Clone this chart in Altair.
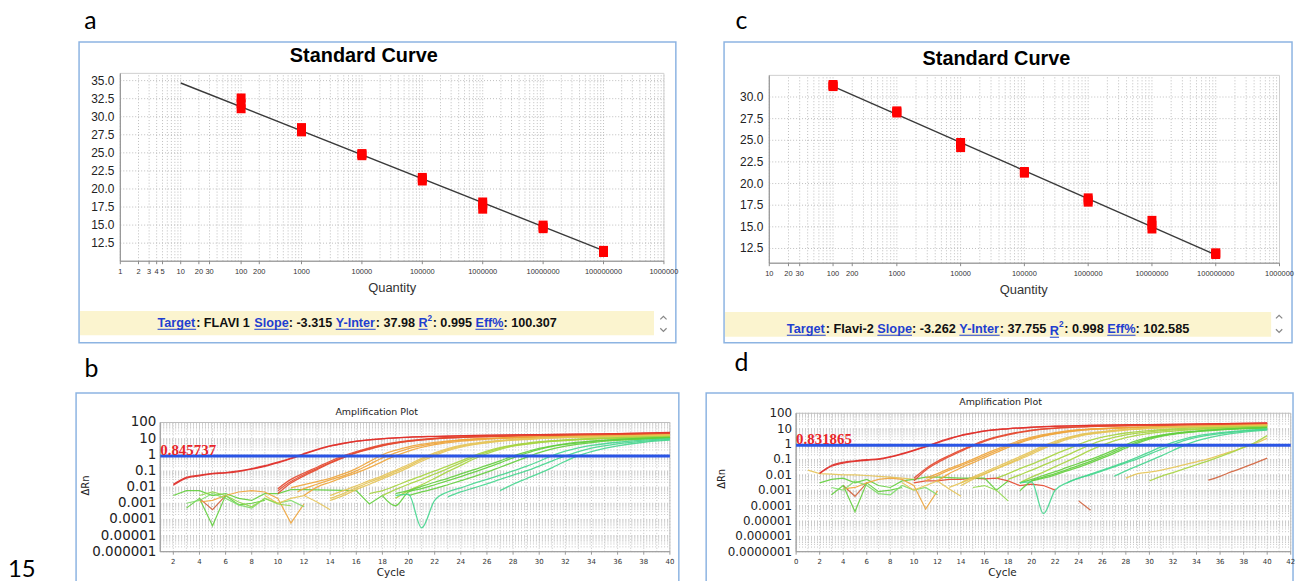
import math
import altair as alt
import pandas as pd

W, H = 1296, 573


def P(v):
    return v - 8


# ---------------- standard curve data ----------------
quantities = [1e2, 1e3, 1e4, 1e5, 1e6, 1e7, 1e8]
ct_flavi1 = [[32.6, 31.8, 31.1], [28.5, 28.2, 27.9], [24.9, 24.8, 24.6], [21.6, 21.4, 21.1],
             [18.2, 17.8, 17.2], [15.0, 14.7, 14.5], [11.5, 11.4, 11.2]]
ct_flavi2 = [[31.45, 31.3, 31.2], [28.4, 28.3, 28.15], [24.75, 24.5, 24.15], [21.4, 21.3, 21.2],
             [18.35, 18.1, 17.85], [15.75, 15.2, 14.75], [12.0, 11.9, 11.8]]
fit1_q = [10, 1e8]
fit1_ct = [34.67, 11.46]
fit2_q = [100, 1e8]
fit2_ct = [31.23, 11.75]

a_xticks = [1, 2, 3, 4, 5, 10, 20, 30, 100, 200, 1e3, 1e4, 1e5, 1e6, 1e7, 1e8, 1e9]
a_xlabels = ['1', '2', '3', '4', '5', '10', '20', '30', '100', '200', '1000', '10000', '100000',
             '1000000', '10000000', '100000000', '1000000']
c_xticks = [10, 20, 30, 100, 200, 1e3, 1e4, 1e5, 1e6, 1e7, 1e8, 1e9]
c_xlabels = ['10', '20', '30', '100', '200', '1000', '10000', '100000', '1000000', '10000000',
             '100000000', '1000000']
a_yticks = [12.5, 15, 17.5, 20, 22.5, 25, 27.5, 30, 32.5, 35]
a_ylabels = ['12.5', '15.0', '17.5', '20.0', '22.5', '25.0', '27.5', '30.0', '32.5', '35.0']
c_yticks = [12.5, 15, 17.5, 20, 22.5, 25, 27.5, 30]
c_ylabels = ['12.5', '15.0', '17.5', '20.0', '22.5', '25.0', '27.5', '30.0']

info_a = [('Target', 'link'), (': FLAVI 1 ', 'bold'), ('Slope', 'link'), (': -3.315 ', 'bold'),
          ('Y-Inter', 'link'), (': 37.98 ', 'bold'), ('R', 'link'), ('2', 'sup'), (': 0.995 ', 'bold'),
          ('Eff%', 'link'), (': 100.307', 'bold')]
info_c = [('Target', 'link'), (': Flavi-2 ', 'bold'), ('Slope', 'link'), (': -3.262 ', 'bold'),
          ('Y-Inter', 'link'), (': 37.755 ', 'bold'), ('R', 'link'), ('2', 'sup'), (': 0.998 ', 'bold'),
          ('Eff%', 'link'), (': 102.585', 'bold')]

# ---------------- amplification data ----------------
b_xticks = list(range(2, 41, 2))
d_xticks = list(range(0, 43, 2))
b_yticks = [1e-6, 1e-5, 1e-4, 1e-3, 1e-2, 1e-1, 1, 10, 100]
b_ylabels = ['0.000001', '0.00001', '0.0001', '0.001', '0.01', '0.1', '1', '10', '100']
d_yticks = [1e-7] + b_yticks
d_ylabels = ['0.0000001'] + b_ylabels
thr_b = 0.845737
thr_d = 0.831865

RED = '#E0302A'
RED2 = '#E4472E'
ORA = '#EEA43A'
YEL = '#E6C457'
YG = '#A6D43F'
GRN = '#62CE3C'
TEAL = '#45D68E'
BRN = '#D0603A'

b_curves = {
    'r1a': (RED, [(2, .015), (3, .04), (4, .055), (5, .07), (6, .08), (7, .1), (8, .14), (9, .21), (10, .35), (11, .62), (12, 1.2), (13, 2.2), (14, 3.6), (15, 5.2), (16, 7), (18, 10), (20, 12.5), (22, 14), (25, 16), (30, 18), (35, 20), (40, 24)]),
    'r1b': (RED, [(2, .013), (3, .036), (4, .05), (5, .065), (6, .075), (7, .092), (8, .13), (9, .19), (10, .32), (11, .57), (12, 1.1), (13, 2.0), (14, 3.4), (15, 5), (16, 6.8), (18, 9.8), (20, 12), (22, 13.5), (25, 15.5), (30, 17.5), (35, 19.5), (40, 23)]),
    'r2a': (RED2, [(10, .008), (11, .03), (12, .075), (13, .17), (14, .4), (15, .85), (16, 1.6), (17, 2.7), (18, 4.2), (20, 7.5), (22, 10.5), (25, 13.5), (30, 16), (35, 18), (40, 21)]),
    'r2b': (RED2, [(10, .006), (11, .022), (12, .06), (13, .14), (14, .33), (15, .72), (16, 1.4), (17, 2.4), (18, 3.8), (20, 7), (22, 10), (25, 13), (30, 15.5), (35, 17.5), (40, 20)]),
    'r2c': (RED2, [(10, .004), (11, .018), (12, .05), (13, .12), (14, .3), (15, .65), (16, 1.3), (17, 2.2), (18, 3.6), (20, 6.8), (22, 9.8), (25, 12.8), (30, 15.5), (35, 17.5), (40, 20)]),
    'o1': (ORA, [(11, .009), (12, .014), (13, .022), (14, .035), (15, .065), (16, .14), (17, .38), (18, 1.0), (19, 1.9), (20, 3.1), (22, 5.8), (24, 8.5), (26, 10.5), (30, 13), (35, 15), (40, 18)]),
    'o2': (ORA, [(11.5, .005), (12, .008), (13, .015), (14, .028), (15, .05), (16, .1), (17, .25), (18, .65), (19, 1.3), (20, 2.4), (22, 5), (24, 8), (26, 10), (30, 12.5), (35, 14.5), (40, 17)]),
    'o3': (ORA, [(12, .003), (13, .01), (14, .02), (15, .04), (16, .075), (17, .16), (18, .38), (19, .85), (20, 1.7), (22, 4.2), (24, 7), (26, 9.3), (30, 12), (35, 14), (40, 16)]),
    'y1': (YEL, [(14, .003), (15, .006), (16, .012), (17, .025), (18, .05), (19, .11), (20, .25), (21, .6), (22, 1.3), (23, 2.4), (24, 3.8), (26, 6.5), (28, 9), (30, 11), (35, 14), (40, 17)]),
    'y2': (YEL, [(14, .002), (15, .004), (16, .009), (17, .02), (18, .04), (19, .09), (20, .2), (21, .5), (22, 1.1), (23, 2.1), (24, 3.4), (26, 6), (28, 8.5), (30, 10.5), (35, 13.5), (40, 16)]),
    'y3': (YEL, [(14, .0015), (15, .003), (16, .007), (17, .015), (18, .032), (19, .07), (20, .16), (21, .4), (22, .9), (23, 1.8), (24, 3), (26, 5.5), (28, 8), (30, 10), (35, 13), (40, 15.5)]),
    'g1': (YG, [(17, .004), (18, .006), (19, .012), (20, .025), (21, .05), (22, .1), (23, .2), (24, .42), (25, .9), (26, 1.7), (27, 2.8), (28, 4), (30, 6.5), (32, 8.5), (35, 11), (40, 14)]),
    'g2': (YG, [(18, .003), (19, .007), (20, .015), (21, .03), (22, .065), (23, .14), (24, .32), (25, .72), (26, 1.45), (27, 2.5), (28, 3.7), (30, 6), (32, 8), (35, 10.5), (40, 13.5)]),
    'g3': (YG, [(19, .002), (20, .006), (21, .014), (22, .035), (23, .09), (24, .22), (25, .55), (26, 1.2), (27, 2.2), (28, 3.4), (30, 5.7), (32, 7.7), (35, 10), (40, 13)]),
    'n1': (GRN, [(19, .004), (20, .006), (21, .011), (22, .02), (23, .035), (24, .065), (25, .12), (26, .22), (27, .42), (28, .85), (29, 1.5), (30, 2.5), (31, 3.6), (32, 4.8), (34, 7), (36, 9), (40, 12)]),
    'n2': (GRN, [(18, .003), (19, .0007), (20, .005), (21, .008), (22, .014), (23, .025), (24, .045), (25, .085), (26, .16), (27, .32), (28, .65), (29, 1.25), (30, 2.2), (31, 3.3), (32, 4.4), (34, 6.6), (36, 8.6), (40, 11.5)]),
    'n3': (GRN, [(20, .003), (21, .005), (22, .008), (23, .014), (24, .025), (25, .045), (26, .085), (27, .17), (28, .34), (29, .7), (30, 1.35), (31, 2.3), (32, 3.4), (34, 5.7), (36, 7.8), (40, 11)]),
    't1': (TEAL, [(19, .003), (20, .0035), (21, .00003), (22, .0015), (23, .005), (24, .009), (25, .017), (26, .03), (27, .055), (28, .1), (29, .19), (30, .4), (31, .9), (32, 1.7), (33, 2.7), (34, 3.8), (36, 6), (38, 8), (40, 10)]),
    't2': (TEAL, [(23, .0025), (24, .005), (25, .009), (26, .016), (27, .03), (28, .055), (29, .1), (30, .2), (31, .42), (32, .85), (33, 1.6), (34, 2.6), (36, 4.8), (38, 7), (40, 9)]),
    't3': (TEAL, [(27, .006), (28, .015), (29, .033), (30, .07), (31, .16), (32, .4), (33, .9), (34, 1.6), (35, 2.5), (36, 3.6), (38, 6), (40, 8)]),
    'z1': (GRN, [(2, .003), (3, .006), (4, .006), (5, .003), (6, .004), (7, .002), (8, .0015), (9, .004), (10, .004), (11, .007), (12, .007), (14, .0065), (16, .006), (17, .0009), (18, .003)]),
    'z2': (BRN, [(4, .002), (5, .0004), (6, .003)]),
    'z3': (GRN, [(3, .0005), (4, .002), (5, .00004), (6, .003), (7, .0008), (8, .001), (9, .0015)]),
    'z4': (ORA, [(4, .0012), (5, .0015), (6, .003), (7, .005), (8, .006), (9, .005), (10, .002), (11, .00006), (12, .0009)]),
    'z5': ('#7FDC6A', [(3, .001), (4, .0015), (5, .004), (6, .002), (7, .0008), (8, .0005), (9, .002), (10, .001), (11, .0015), (12, .0006)]),
    'z6': (YEL, [(9, .003), (10, .001), (11, .002), (12, .003), (13, .0012), (14, .0004)]),
    'z7': ('#8FD84A', [(4, .003), (5, .005), (6, .003), (7, .0012), (8, .0006), (9, .002), (10, .0009), (11, .0007)]),
}

d_curves = {
    'r1a': (RED, [(2, .013), (3, .04), (4, .065), (5, .08), (6, .095), (7, .11), (8, .15), (9, .24), (10, .4), (11, .7), (12, 1.3), (13, 2.3), (14, 3.7), (15, 5.3), (16, 7.2), (18, 10), (20, 12.5), (22, 14.5), (25, 16.5), (30, 18.5), (35, 20.5), (40, 24)]),
    'r1b': (RED, [(2, .012), (3, .036), (4, .058), (5, .074), (6, .088), (7, .1), (8, .14), (9, .22), (10, .37), (11, .65), (12, 1.2), (13, 2.1), (14, 3.5), (15, 5), (16, 6.9), (18, 9.7), (20, 12), (22, 14), (25, 16), (30, 18), (35, 20), (40, 23)]),
    'r2a': (RED2, [(10, .006), (11, .025), (12, .075), (13, .18), (14, .4), (15, .85), (16, 1.7), (17, 2.9), (18, 4.4), (20, 8), (22, 11), (25, 14), (30, 16.5), (35, 18.5), (40, 21)]),
    'r2b': (RED2, [(10, .004), (11, .02), (12, .06), (13, .15), (14, .34), (15, .75), (16, 1.5), (17, 2.6), (18, 4), (20, 7.5), (22, 10.5), (25, 13.5), (30, 16), (35, 18), (40, 20)]),
    'o1': (ORA, [(11, .006), (12, .012), (13, .025), (14, .05), (15, .1), (16, .22), (17, .45), (18, .9), (19, 1.7), (20, 2.8), (22, 5.5), (24, 8.5), (26, 10.5), (30, 13), (35, 15), (40, 18)]),
    'o2': (ORA, [(11, .004), (12, .009), (13, .02), (14, .04), (15, .08), (16, .17), (17, .36), (18, .75), (19, 1.4), (20, 2.4), (22, 5), (24, 8), (26, 10), (30, 12.5), (35, 14.5), (40, 17)]),
    'o3': (ORA, [(12, .004), (13, .012), (14, .028), (15, .06), (16, .13), (17, .28), (18, .6), (19, 1.2), (20, 2.1), (22, 4.6), (24, 7.5), (26, 9.5), (30, 12), (35, 14), (40, 16)]),
    'y1': (YEL, [(14, .003), (15, .007), (16, .015), (17, .032), (18, .07), (19, .15), (20, .33), (21, .75), (22, 1.5), (23, 2.6), (24, 4), (26, 6.5), (28, 9), (30, 11), (35, 14), (40, 16.5)]),
    'y2': (YEL, [(14, .002), (15, .005), (16, .011), (17, .024), (18, .055), (19, .12), (20, .27), (21, .6), (22, 1.25), (23, 2.3), (24, 3.6), (26, 6), (28, 8.5), (30, 10.5), (35, 13.5), (40, 16)]),
    'y3': (YEL, [(13, .0015), (14, .003), (15, .006), (16, .012), (17, .025), (18, .05), (19, .1), (20, .22), (21, .5), (22, 1.05), (23, 2), (24, 3.2), (26, 5.5), (28, 8), (30, 10), (35, 13), (40, 15.5)]),
    'g1': (YG, [(17, .006), (18, .012), (19, .025), (20, .05), (21, .1), (22, .22), (23, .45), (24, .95), (25, 1.8), (26, 2.8), (27, 4), (28, 5.2), (30, 7.5), (32, 9.5), (35, 11.5), (40, 14)]),
    'g2': (YG, [(18, .005), (19, .01), (20, .02), (21, .042), (22, .09), (23, .19), (24, .42), (25, .9), (26, 1.7), (27, 2.7), (28, 3.9), (30, 6.2), (32, 8.2), (35, 10.5), (40, 13.5)]),
    'g3': (YG, [(19, .003), (20, .007), (21, .015), (22, .034), (23, .075), (24, .17), (25, .4), (26, .85), (27, 1.6), (28, 2.6), (30, 5), (32, 7), (35, 9.5), (40, 13)]),
    'n1': (GRN, [(19, .003), (20, .005), (21, .009), (22, .016), (23, .03), (24, .055), (25, .1), (26, .2), (27, .42), (28, .9), (29, 1.7), (30, 2.7), (31, 3.8), (32, 5), (34, 7), (36, 9), (40, 12)]),
    'n2': (GRN, [(19, .0009), (20, .004), (21, .007), (22, .012), (23, .022), (24, .04), (25, .075), (26, .15), (27, .32), (28, .7), (29, 1.4), (30, 2.4), (31, 3.5), (32, 4.6), (34, 6.7), (36, 8.7), (40, 11.5)]),
    'n3': (GRN, [(20, .004), (21, .006), (22, .01), (23, .018), (24, .032), (25, .06), (26, .12), (27, .25), (28, .55), (29, 1.15), (30, 2.1), (31, 3.2), (32, 4.3), (34, 6.4), (36, 8.4), (40, 11)]),
    't1': (TEAL, [(19, .003), (20, .0035), (21, .00003), (22, .001), (23, .003), (24, .006), (25, .011), (26, .02), (27, .037), (28, .07), (29, .14), (30, .3), (31, .65), (32, 1.3), (33, 2.2), (34, 3.3), (36, 5.5), (38, 7.5), (40, 9.5)]),
    't2': (TEAL, [(23, .003), (24, .006), (25, .01), (26, .018), (27, .033), (28, .06), (29, .11), (30, .22), (31, .45), (32, .9), (33, 1.7), (34, 2.7), (36, 4.8), (38, 7), (40, 9)]),
    't3': (TEAL, [(27, .008), (28, .018), (29, .038), (30, .08), (31, .17), (32, .38), (33, .85), (34, 1.6), (35, 2.5), (36, 3.6), (38, 6), (40, 8)]),
    'l1': (YEL, [(28, .006), (29, .012), (30, .015), (31, .02), (32, .03), (33, .045), (34, .07), (35, .11), (36, .19), (37, .33), (38, .6), (39, 1.1), (40, 2.3)]),
    'l2': (YG, [(30, .004), (31, .008), (32, .014), (33, .025), (34, .045), (35, .08), (36, .15), (37, .3), (38, .6), (39, 1.3), (40, 3.5)]),
    'l3': (BRN, [(35, .0045), (36, .008), (37, .016), (38, .03), (39, .06), (40, .12)]),
    'z8': (BRN, [(24, .0002), (25, .00005)]),
    'z9': (RED2, [(10, .003), (11, .004), (12, .004), (13, .005), (14, .005), (15, .006), (16, .0055), (17, .006), (18, .004), (19, .002), (20, .0025), (21, .002), (22, .001)]),
    'z0': (YEL, [(1, .02), (2, .012), (3, .011), (4, .01), (5, .01), (6, .009), (7, .008), (8, .007), (9, .006), (10, .005)]),
    'z1': (GRN, [(2, .003), (3, .005), (4, .006), (5, .003), (6, .005), (7, .002), (8, .0015), (9, .004), (10, .005), (11, .007), (12, .007), (14, .006), (16, .006), (17, .001), (18, .004)]),
    'z2': (BRN, [(4, .002), (5, .0004), (6, .003)]),
    'z3': (GRN, [(3, .0005), (4, .002), (5, .00004), (6, .003), (7, .0008), (8, .001), (9, .0015)]),
    'z4': (ORA, [(4, .0012), (5, .0015), (6, .003), (7, .005), (8, .006), (9, .005), (10, .002), (11, .00006), (12, .0009)]),
    'z5': ('#7FDC6A', [(3, .0015), (4, .001), (5, .004), (6, .002), (7, .0006), (8, .0005), (9, .002), (10, .001), (11, .0015), (12, .0005)]),
    'z6': (YEL, [(9, .003), (10, .001), (11, .002), (12, .004), (13, .0012), (14, .0004)]),
    'z7': ('#8FD84A', [(15, .0015), (16, .002), (17, .001), (18, .0002)]),
}

# Arial / Liberation Sans Bold advance widths (em) for the info-bar strings
BOLD_W = {'T': .611, 'a': .556, 'r': .389, 'g': .611, 'e': .556, 't': .333, ':': .333, ' ': .278,
          'F': .611, 'L': .611, 'A': .722, 'V': .667, 'I': .278, '1': .556, 'S': .667, 'l': .278,
          'o': .611, 'p': .611, '-': .333, '3': .556, '.': .278, '5': .556, 'Y': .667, 'n': .611,
          '7': .556, '9': .556, '8': .556, 'R': .722, '0': .556, 'E': .667, 'f': .333, '%': .889,
          'v': .556, 'i': .278, '2': .556, '6': .556}


def curves_df(curves, noisy):
    rows = []
    for name, (col, pts) in curves.items():
        if name.startswith('z') != noisy:
            continue
        for c, v in pts:
            rows.append({'name': name, 'cycle': c, 'dRn': v, 'col': col})
    return pd.DataFrame(rows)


one = pd.DataFrame({'k': [0]})


def txt(s, x, y, size, color='#000', weight='normal', font='Liberation Sans',
        align='center', baseline='middle', angle=0):
    props = dict(text=s, fontSize=size, color=color, fontWeight=weight, font=font,
                 align=align, baseline=baseline)
    if angle:
        props['angle'] = angle
    return alt.Chart(one).mark_text(**props).encode(x=alt.value(P(x)), y=alt.value(P(y)))


def box(x0, y0, x1, y1, stroke='#000', sw=1.0, fill='#ffffff', fo=0.0):
    return alt.Chart(one).mark_rect(fill=fill, fillOpacity=fo, stroke=stroke, strokeWidth=sw).encode(
        x=alt.value(P(x0)), x2=alt.value(P(x1)), y=alt.value(P(y0)), y2=alt.value(P(y1)))


def hline(x0, x1, y, color, sw=1.0):
    return alt.Chart(one).mark_rule(color=color, strokeWidth=sw).encode(
        x=alt.value(P(x0)), x2=alt.value(P(x1)), y=alt.value(P(y)))


def vline(x, y0, y1, color, sw=1.0):
    return alt.Chart(one).mark_rule(color=color, strokeWidth=sw).encode(
        x=alt.value(P(x)), y=alt.value(P(y0)), y2=alt.value(P(y1)))


def chevron(x, y, up=True):
    shape = 'M-1,0.5L0,-0.5L1,0.5' if up else 'M-1,-0.5L0,0.5L1,-0.5'
    return alt.Chart(one).mark_point(shape=shape, filled=False, size=40, stroke='#555',
                                     strokeWidth=1.2).encode(x=alt.value(P(x)), y=alt.value(P(y)))


def axis_layers(xs, ys, xr, yr, xticks, xlabels, yticks, ylabels, font, xsize, ysize,
                xlab_y, ylab_pad, dom_color):
    """Axis tick labels and tick marks drawn through the panel scales."""
    xl = pd.DataFrame({'v': xticks, 'lab': xlabels})
    yl = pd.DataFrame({'v': yticks, 'lab': ylabels})
    l_xt = alt.Chart(xl).mark_rule(color=dom_color, strokeWidth=1).encode(
        x=alt.X('v:Q', scale=xs, axis=None), y=alt.value(P(yr[1])), y2=alt.value(P(yr[1] + 3)))
    l_xl = alt.Chart(xl).mark_text(font=font, fontSize=xsize, color='#333', baseline='middle').encode(
        x=alt.X('v:Q', scale=xs, axis=None), y=alt.value(P(xlab_y)), text='lab:N')
    l_yl = alt.Chart(yl).mark_text(font=font, fontSize=ysize, color='#222', align='right',
                                    baseline='middle').encode(
        y=alt.Y('v:Q', scale=ys, axis=None), x=alt.value(P(xr[0] - ylab_pad)), text='lab:N')
    return [l_xt, l_xl, l_yl, vline(xr[0], yr[0], yr[1], dom_color), hline(xr[0], xr[1], yr[1], dom_color)]


def std_panel(ct_lists, fit_q, fit_ct, xdom, ydom, xr, yr, xticks, xlabels, yticks, ylabels, xlab_y):
    xs = alt.Scale(type='log', domain=xdom, range=[P(xr[0]), P(xr[1])], nice=False)
    ys = alt.Scale(type='linear', domain=ydom, range=[P(yr[1]), P(yr[0])], nice=False, zero=False)
    lo, hi = xdom
    decs = range(int(round(math.log10(lo))), int(round(math.log10(hi))))
    vx = [k * 10 ** d for d in decs for k in range(1, 10)] + [hi]
    gv = pd.DataFrame({'g': vx, 'lo': ydom[0], 'hi': ydom[1]})
    gh = pd.DataFrame({'g': yticks, 'lo': xdom[0], 'hi': xdom[1]})
    border = pd.DataFrame({'x0': [xdom[0]], 'x1': [xdom[1]], 'y0': [ydom[0]], 'y1': [ydom[1]]})
    pts = pd.DataFrame([{'q': q, 'ct': c} for q, cs in zip(quantities, ct_lists) for c in cs])
    fit = pd.DataFrame({'q': fit_q, 'ct': fit_ct})

    l_gv = alt.Chart(gv).mark_rule(color='#bdbdbd', strokeWidth=1, strokeDash=[1, 2]).encode(
        x=alt.X('g:Q', scale=xs, axis=None), y=alt.Y('lo:Q', scale=ys, axis=None), y2='hi:Q')
    l_gh = alt.Chart(gh).mark_rule(color='#bdbdbd', strokeWidth=1, strokeDash=[1, 2]).encode(
        y=alt.Y('g:Q', scale=ys, axis=None), x=alt.X('lo:Q', scale=xs, axis=None), x2='hi:Q')
    l_b = alt.Chart(border).mark_rect(fill='#ffffff', fillOpacity=0, stroke='#d0d0d0', strokeWidth=1).encode(
        x=alt.X('x0:Q', scale=xs, axis=None), x2='x1:Q', y=alt.Y('y0:Q', scale=ys, axis=None), y2='y1:Q')
    l_fit = alt.Chart(fit).mark_line(color='#3a3a3a', strokeWidth=1.4).encode(
        x=alt.X('q:Q', scale=xs, axis=None), y=alt.Y('ct:Q', scale=ys, axis=None))
    l_pts = alt.Chart(pts).mark_point(shape='square', filled=True, size=81, color='#FF0000', opacity=1).encode(
        x=alt.X('q:Q', scale=xs, axis=None), y=alt.Y('ct:Q', scale=ys, axis=None))
    ax = axis_layers(xs, ys, xr, yr, xticks, xlabels, yticks, ylabels, 'Liberation Sans', 7.5, 12,
                     xlab_y, 6, '#8a8a8a')
    return alt.layer(l_gv, l_gh, l_b, *ax, l_fit, l_pts)


def amp_panel(curves, xdom, ydom, xr, yr, xticks, yticks, ylabels, ylabsize, thr, thr_text):
    xs = alt.Scale(type='linear', domain=xdom, range=[P(xr[0]), P(xr[1])], nice=False, zero=False)
    ys = alt.Scale(type='log', domain=ydom, range=[P(yr[1]), P(yr[0])], nice=False)
    d0 = int(round(math.log10(ydom[0])))
    d1 = int(round(math.log10(ydom[1])))
    vy = [k * 10 ** d for d in range(d0, d1) for k in range(1, 10)] + [ydom[1]]
    vx = list(range(int(xdom[0]), int(xdom[1]) + 1))
    gv = pd.DataFrame({'g': vx, 'lo': ydom[0], 'hi': ydom[1]})
    gh = pd.DataFrame({'g': vy, 'lo': xdom[0], 'hi': xdom[1]})
    border = pd.DataFrame({'x0': [xdom[0]], 'x1': [xdom[1]], 'y0': [ydom[0]], 'y1': [ydom[1]]})
    thr_df = pd.DataFrame({'x0': [xdom[0]], 'x1': [xdom[1]], 'v': [thr], 'lab': [thr_text]})

    l_gv = alt.Chart(gv).mark_rule(color='#c4c4c4', strokeWidth=1, strokeDash=[1, 2]).encode(
        x=alt.X('g:Q', scale=xs, axis=None), y=alt.Y('lo:Q', scale=ys, axis=None), y2='hi:Q')
    l_gh = alt.Chart(gh).mark_rule(color='#c4c4c4', strokeWidth=1, strokeDash=[1, 2]).encode(
        y=alt.Y('g:Q', scale=ys, axis=None), x=alt.X('lo:Q', scale=xs, axis=None), x2='hi:Q')
    l_b = alt.Chart(border).mark_rect(fill='#ffffff', fillOpacity=0, stroke='#bdbdbd', strokeWidth=1).encode(
        x=alt.X('x0:Q', scale=xs, axis=None), x2='x1:Q', y=alt.Y('y0:Q', scale=ys, axis=None), y2='y1:Q')
    enc = dict(x=alt.X('cycle:Q', scale=xs, axis=None), y=alt.Y('dRn:Q', scale=ys, axis=None),
               color=alt.Color('col:N', scale=None), detail='name:N', order='cycle:Q')
    l_noise = alt.Chart(curves_df(curves, True)).mark_line(strokeWidth=1.2, opacity=0.9).encode(**enc)
    l_lines = alt.Chart(curves_df(curves, False)).mark_line(
        strokeWidth=1.3, opacity=0.9, interpolate='monotone').encode(**enc)
    l_thr = alt.Chart(thr_df).mark_rule(color='#2A55E5', strokeWidth=3).encode(
        x=alt.X('x0:Q', scale=xs, axis=None), x2='x1:Q', y=alt.Y('v:Q', scale=ys, axis=None))
    l_thr_t = alt.Chart(thr_df).mark_text(align='left', baseline='alphabetic', dy=-1, fontSize=15,
                                          font='Liberation Serif', fontWeight='bold', color='#E8262A').encode(
        x=alt.X('x0:Q', scale=xs, axis=None), y=alt.Y('v:Q', scale=ys, axis=None), text='lab:N')
    ax = axis_layers(xs, ys, xr, yr, xticks, [str(t) for t in xticks], yticks, ylabels, 'DejaVu Sans',
                     7, ylabsize, yr[1] + 10, 4, '#9a9a9a')
    return alt.layer(l_gv, l_gh, l_b, *ax, l_noise, l_lines, l_thr, l_thr_t)


def info_bar(items, x_start, base, size, r_shift):
    out = []
    x = x_start
    for s, kind in items:
        if kind == 'sup':
            out.append(txt(s, x, base - 6, size * 0.65, color=LINK, weight='bold', align='left',
                           baseline='alphabetic'))
            x += BOLD_W[s] * size * 0.65 + 0.5
            continue
        w = sum(BOLD_W[ch] for ch in s) * size
        if kind == 'link':
            yb = base + (r_shift if s == 'R' else 0)
            out.append(txt(s, x, yb, size, color=LINK, weight='bold', align='left', baseline='alphabetic'))
            out.append(hline(x, x + w, yb + 2, LINK, 1))
        else:
            out.append(txt(s.rstrip(), x, base, size, color='#111', weight='bold', align='left',
                           baseline='alphabetic'))
        x += w
    return out


FRAME = '#8DB4E2'
LINK = '#1F3FD0'
YELLOW = '#FBF4CF'

layers = []
# panel frames and info bars
layers += [box(79.5, 40.5, 680, 343, stroke=FRAME, sw=1.5),
           box(728.5, 40.5, 1300, 343, stroke=FRAME, sw=1.5),
           box(76.5, 393.5, 683, 600, stroke=FRAME, sw=1.5),
           box(710.5, 393.5, 1301, 600, stroke=FRAME, sw=1.5),
           box(80.5, 311, 658, 335.5, stroke=YELLOW, sw=0, fill=YELLOW, fo=1),
           box(729.5, 312, 1279, 337, stroke=YELLOW, sw=0, fill=YELLOW, fo=1)]

panel_a = std_panel(ct_flavi1, fit1_q, fit1_ct, [1, 1e9], [10, 36], (121, 668), (72, 261),
                    a_xticks, a_xlabels, a_yticks, a_ylabels, 271.7)
panel_c = std_panel(ct_flavi2, fit2_q, fit2_ct, [10, 1e9], [10.8, 32.5], (774, 1287.4), (74, 263),
                    c_xticks, c_xlabels, c_yticks, c_ylabels, 273.5)
panel_b = amp_panel(b_curves, [1, 40], [1e-6, 100], (161.2, 674), (423.3, 553.3), b_xticks, b_yticks,
                    b_ylabels, 13.5, thr_b, '0.845737')
panel_d = amp_panel(d_curves, [0, 42], [1e-7, 100], (801, 1298.7), (414, 553.3), d_xticks, d_yticks,
                    d_ylabels, 12, thr_d, '0.831865')
layers += [panel_a, panel_c, panel_b, panel_d]

# titles and labels
layers += [
    txt('a', 91, 27, 25, font='Lato', baseline='alphabetic'),
    txt('c', 746, 27, 25, font='Lato', baseline='alphabetic'),
    txt('b', 92, 378, 25, font='Lato', baseline='alphabetic'),
    txt('d', 746, 371, 25, font='Lato', baseline='alphabetic'),
    txt('15', 8, 579, 24, font='Lato', align='left', baseline='alphabetic'),
    txt('Standard Curve', 366, 55, 20, weight='bold'),
    txt('Standard Curve', 1002.6, 58, 20, weight='bold'),
    txt('Quantity', 394.6, 288, 13, color='#333'),
    txt('Quantity', 1030, 290, 13, color='#333'),
    txt('Amplification Plot', 379, 413, 9.5, color='#222', font='DejaVu Sans'),
    txt('Amplification Plot', 1006.7, 403, 9.5, color='#222', font='DejaVu Sans'),
    txt('ΔRn', 86.8, 486.7, 10, color='#222', font='DejaVu Sans', angle=270),
    txt('ΔRn', 726, 480, 10, color='#222', font='DejaVu Sans', angle=270),
    txt('Cycle', 393.4, 575, 10.5, color='#222', font='DejaVu Sans'),
    txt('Cycle', 1008.7, 575, 10.5, color='#222', font='DejaVu Sans'),
]

layers += info_bar(info_a, 158.5, 327.5, 12.7, 0)
layers += info_bar(info_c, 791.7, 333.5, 12.8, 2)

layers += [chevron(667.5, 318, True), chevron(667.5, 330, False),
           chevron(1287, 317, True), chevron(1287, 331, False)]

chart = alt.layer(*layers).resolve_scale(x='independent', y='independent').properties(
    width=W, height=H, padding=0, autosize=alt.AutoSizeParams(type='none')).configure_view(strokeWidth=0)

chart.save('out.html', embed_options={'renderer': 'svg', 'actions': False})
